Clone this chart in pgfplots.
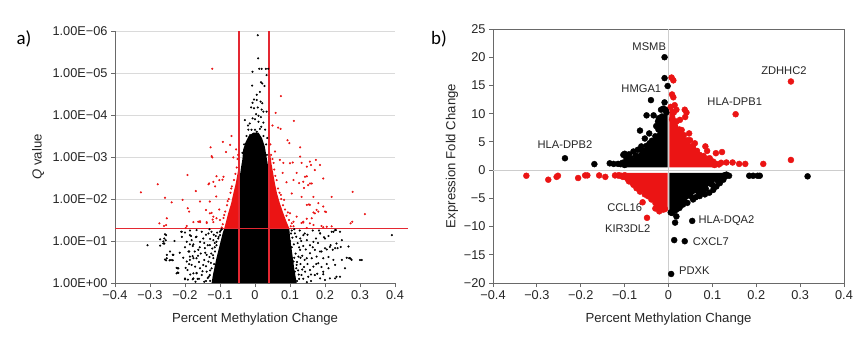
\documentclass[border=0pt]{standalone}
\usepackage{fontspec}
\setmainfont{Liberation Sans}
\newfontfamily\carlito{Carlito}
\usepackage{pgfplots}
\pgfplotsset{compat=1.18}
\definecolor{myred}{RGB}{235,20,20}
\definecolor{linered}{RGB}{228,40,50}
\definecolor{axgray}{RGB}{105,105,105}
\definecolor{gridgray}{RGB}{218,218,218}
\definecolor{zerogray}{RGB}{205,205,205}

\begin{document}
\begin{tikzpicture}[x=1bp,y=1bp]
\useasboundingbox (0,0) rectangle (859,337);
\fill[white] (0,0) rectangle (859,337);
\node[font=\carlito\fontsize{19}{22}\selectfont] at (24,298) {a)};
\node[font=\carlito\fontsize{19}{22}\selectfont] at (439,298) {b)};

% ---------------- panel a ----------------
\begin{axis}[
  at={(115bp,54bp)}, anchor=south west, scale only axis,
  width=280bp, height=252bp,
  xmin=-0.4, xmax=0.4, ymin=0, ymax=6,
  axis x line*=bottom, axis y line*=left,
  axis line style={axgray,-,line width=0.8pt},
  clip=false,
  xtick={-0.4,-0.3,-0.2,-0.1,0,0.1,0.2,0.3,0.4},
  xticklabels={−0.4,−0.3,−0.2,−0.1,0,0.1,0.2,0.3,0.4},
  ytick={0,1,2,3,4,5,6},
  yticklabels={1.00E+00,1.00E−01,1.00E−02,1.00E−03,1.00E−04,1.00E−05,1.00E−06},
  tick align=outside, major tick length=4bp,
  tick style={axgray,line width=0.8pt},
  ymajorgrids, grid style={gridgray,line width=0.8pt},
  ticklabel style={font=\fontsize{12.8}{14}\selectfont, text=black!85},
  xlabel={Percent Methylation Change},
  ylabel={\textit{Q} value},
  label style={font=\fontsize{13.2}{15}\selectfont, text=black!85},
  xlabel style={at={(axis description cs:0.5,-0.143)}, anchor=center},
  ylabel style={at={(axis description cs:-0.275,0.5)}, anchor=center},
]
% dense red regions
\addplot[fill=myred, draw=none] coordinates {(-0.088,1.3) (-0.044,1.3) (-0.044,2.9) (-0.047,2.75) (-0.05,2.6) (-0.055,2.37) (-0.062,2.13) (-0.068,1.9) (-0.077,1.65) (-0.083,1.45)} -- cycle;
\addplot[fill=myred, draw=none] coordinates {(0.04,1.3) (0.098,1.3) (0.09,1.46) (0.081,1.66) (0.071,1.9) (0.063,2.13) (0.057,2.37) (0.052,2.61) (0.047,2.85) (0.043,3.1) (0.04,3.2)} -- cycle;
% dense black core
\addplot[fill=black, draw=none] coordinates {(-0.124,0) (-0.12,0.2) (-0.115,0.4) (-0.11,0.6) (-0.104,0.8) (-0.098,1.0) (-0.092,1.2) (-0.088,1.3) (-0.044,1.3) (-0.044,2.5) (-0.04,2.75) (-0.036,2.95) (-0.034,3.17) (-0.027,3.35) (-0.018,3.5) (-0.005,3.58) (0.01,3.58) (0.02,3.45) (0.028,3.25) (0.033,3.0) (0.038,2.75) (0.04,2.5) (0.04,1.3) (0.098,1.3) (0.1,1.1) (0.104,0.85) (0.108,0.6) (0.112,0.35) (0.116,0.15) (0.119,0)} -- cycle;
% scattered red
\addplot[only marks, mark=*, mark size=0.85pt, color=myred] coordinates {
(-0.122,5.10) (0.074,4.45) (0.059,4.05) (0.111,3.86) (0.073,3.67) (0.066,3.70) (0.050,3.75) (0.093,3.40) (0.098,3.33) (0.129,3.23)
(-0.067,3.50) (-0.092,3.36) (-0.127,3.23) (-0.122,2.99) (-0.071,3.29) (-0.054,3.18) (-0.083,3.12) (-0.062,2.99) (0.057,3.13) (0.053,2.86)
(0.071,2.93) (0.081,2.86) (0.100,2.85) (0.108,2.87) (0.129,3.01) (0.133,2.86) (0.148,2.77) (0.157,2.89) (0.160,2.81) (0.171,2.69)
(0.174,2.93) (0.186,2.81) (0.143,2.53) (0.148,2.54) (0.110,2.45) (0.138,2.41) (0.152,2.33) (0.162,2.37) (0.195,2.49) (0.079,2.62)
(0.119,2.62) (0.090,2.40) (0.126,2.38) (0.157,2.37) (0.140,2.26) (0.105,2.13) (0.133,2.05) (0.167,2.05) (0.219,2.05) (0.279,2.17)
(0.148,1.86) (0.157,1.86) (0.181,1.90) (0.154,1.87) (0.195,1.82) (0.176,1.74) (0.181,1.70) (0.200,1.70) (0.171,1.66) (0.203,1.69)
(0.167,1.68) (0.100,1.66) (0.119,1.58) (0.110,1.46) (0.138,1.46) (0.162,1.54) (0.148,1.53) (0.133,1.43) (0.138,1.44) (0.157,1.42)
(0.167,1.38) (0.190,1.36) (0.205,1.34) (0.195,1.33) (0.219,1.35) (0.314,1.64) (0.273,1.42) (0.278,1.46) (0.110,1.35) (0.148,1.31)
(-0.124,3.02) (-0.193,2.57) (-0.278,2.35) (-0.326,2.16) (-0.257,2.03) (-0.238,1.92) (-0.207,1.98) (-0.169,2.19) (-0.133,2.35) (-0.119,2.41)
(-0.102,2.45) (-0.090,2.53) (-0.110,2.54) (-0.093,2.46) (-0.114,2.30) (-0.131,2.37) (-0.157,1.94) (-0.129,1.94) (-0.111,2.06) (-0.192,1.78)
(-0.188,1.70) (-0.124,1.67) (-0.102,1.75) (-0.140,1.74) (-0.129,1.66) (-0.119,1.58) (-0.110,1.54) (-0.100,1.50) (-0.252,1.54) (-0.273,1.42)
(-0.260,1.36) (-0.254,1.38) (-0.195,1.36) (-0.162,1.46) (-0.176,1.45) (-0.157,1.45) (-0.138,1.45) (-0.119,1.45) (-0.157,1.47) (-0.138,1.43)
(-0.121,1.51) (-0.198,1.31)
(-0.092,1.40) (-0.090,1.55) (-0.085,1.70) (-0.080,1.85) (-0.075,2.00) (-0.070,2.15) (-0.066,2.30) (-0.060,2.45) (-0.056,2.60) (-0.052,2.75)
(-0.050,2.95) (-0.048,3.05) (-0.095,1.32) (-0.088,1.62) (-0.078,1.95) (-0.068,2.25)
(0.102,1.35) (0.097,1.50) (0.090,1.60) (0.086,1.75) (0.080,1.85) (0.075,2.00) (0.070,2.15) (0.066,2.25) (0.062,2.45) (0.058,2.55)
(0.055,2.70) (0.050,2.95) (0.046,3.05) (0.044,3.30) (0.105,1.42) (0.094,1.68) (0.083,1.98) (0.074,2.10)
};
% scattered black
\addplot[only marks, mark=*, mark size=0.85pt, color=black] coordinates {
(0.008,5.9) (0.009,5.35) (0.012,5.1) (0.019,5.1) (0.031,5.1) (0.038,5.1) (-0.007,5.03) (0.033,4.95) (0.017,4.78) (0.021,4.75)
(0.027,4.69) (-0.008,4.7) (0.014,4.55) (0.005,4.48) (-0.003,4.37) (0.005,4.36) (-0.007,4.29) (0.016,4.32) (0.021,4.28) (-0.011,4.18)
(-0.003,4.16) (0.008,4.18) (0.019,4.13) (0.024,4.08) (0.033,4.08) (0.003,4.02) (0.01,3.98) (0.017,3.95) (-0.007,3.92) (-0.029,3.88)
(0.01,3.84) (0.024,3.82) (-0.019,3.65) (-0.01,3.65) (0,3.65) (0.014,3.67) (0.029,3.65) (-0.024,3.5) (-0.014,3.52) (0.005,3.6)
(0.024,3.5) (0.035,3.45) (-0.031,3.3) (0.032,3.3) (-0.036,3.1) (0.034,3.05) (-0.02,3.75) (0.018,3.72) (-0.015,3.8) (0.0,3.9)
(-0.307,0.90) (-0.271,1.04) (-0.259,1.06) (-0.254,1.14) (-0.259,0.94) (-0.243,0.75) (-0.233,0.67) (-0.252,0.67) (-0.254,0.54) (-0.244,0.54)
(-0.235,0.54) (-0.221,0.35) (-0.221,0.25) (-0.2,0.09) (-0.209,1.10) (-0.211,1.22) (-0.183,1.12) (-0.169,1.09) (-0.186,0.92) (-0.178,0.88)
(-0.188,0.75) (-0.178,0.64) (-0.186,0.55) (-0.181,0.43) (-0.171,0.39) (-0.193,0.31) (-0.176,0.23) (-0.178,0.09) (-0.164,0.10) (-0.262,0.99)
(-0.257,0.56) (-0.224,0.36) (-0.219,0.24) (-0.198,0.36) (-0.192,0.08) (-0.167,0.24) (-0.186,1.25) (-0.257,1.16) (-0.255,1.02) (-0.262,0.94)
(-0.271,0.89) (-0.235,0.67) (-0.252,0.59) (-0.24,0.55) (-0.186,1.14) (-0.167,1.10) (-0.195,0.98) (-0.181,1.02) (-0.176,0.92) (-0.19,0.75)
(-0.186,0.63) (-0.176,0.59) (-0.167,0.59) (-0.195,0.51) (-0.219,0.35) (-0.224,0.23) (-0.2,0.11) (-0.167,0.23) (-0.157,0.35) (-0.148,0.43)
(-0.152,0.19) (-0.176,0.11) (-0.138,0.67) (-0.143,0.83) (-0.162,0.79) (-0.157,0.98) (-0.148,1.06) (-0.133,1.18) (-0.124,1.22) (-0.119,1.02)
(-0.129,0.9) (-0.209,1.22) (-0.167,1.26) (-0.152,1.22) (-0.133,0.51) (-0.124,0.35) (-0.129,0.19) (-0.138,0.27) (-0.119,0.59) (-0.114,0.75)
(-0.11,0.9) (-0.105,1.06) (-0.1,1.14) (-0.128,0.05) (-0.135,0.12) (-0.14,0.4) (-0.13,0.62) (-0.122,0.82) (-0.115,0.95) (-0.108,1.2)
(-0.098,1.25) (-0.145,0.55) (-0.155,0.7) (-0.16,0.1) (-0.145,0.03) (-0.117,0.45) (-0.125,0.7) (-0.112,1.12)
(-0.128,0.3) (-0.132,0.15) (-0.126,0.48) (-0.12,0.66) (-0.115,0.85) (-0.11,0.98) (-0.104,1.1) (-0.1,1.22) (-0.095,1.28) (-0.14,0.05)
(-0.15,0.28) (-0.142,0.72) (-0.135,0.9) (-0.128,1.05) (-0.118,1.15) (-0.16,0.5) (-0.163,0.65) (-0.158,0.85) (-0.145,0.95) (-0.14,1.15)
(-0.13,1.28) (-0.172,0.75) (-0.17,0.03) (-0.185,0.2) (-0.205,0.6) (-0.2,0.85) (-0.215,0.72) (-0.23,1.0) (-0.2,1.2) (-0.188,0.45)
(0.114,1.18) (0.129,1.06) (0.138,1.14) (0.148,1.02) (0.157,0.9) (0.167,0.98) (0.186,1.18) (0.2,1.06) (0.219,1.22) (0.229,1.26)
(0.243,1.22) (0.248,1.02) (0.233,0.94) (0.214,0.86) (0.2,0.83) (0.186,0.75) (0.171,0.79) (0.157,0.71) (0.148,0.59) (0.162,0.59)
(0.176,0.63) (0.195,0.59) (0.181,0.47) (0.167,0.39) (0.157,0.31) (0.143,0.27) (0.133,0.19) (0.152,0.15) (0.171,0.19) (0.186,0.11)
(0.195,0.27) (0.21,0.35) (0.224,0.55) (0.229,0.43) (0.248,0.55) (0.271,0.59) (0.3,0.55) (0.257,0.35) (0.229,0.11) (0.243,0.15)
(0.214,0.11) (0.2,0.07) (0.119,0.43) (0.124,0.63) (0.129,0.79) (0.11,0.51) (0.114,0.27) (0.1,0.11) (0.11,0.07)
(0.391,1.14) (0.224,1.22) (0.231,1.26) (0.21,1.12) (0.197,1.09) (0.186,1.18) (0.174,1.06) (0.229,0.83) (0.236,0.83) (0.245,0.86)
(0.222,0.79) (0.216,0.9) (0.205,0.8) (0.19,0.75) (0.269,0.59) (0.276,0.55) (0.305,0.55) (0.233,0.15) (0.195,0.21) (0.267,0.87)
(0.262,0.6) (0.273,0.58) (0.12,0.05) (0.125,0.2) (0.118,0.35) (0.112,0.6) (0.105,0.85) (0.1,1.0) (0.095,1.2) (0.13,0.45)
(0.138,0.1) (0.135,0.65) (0.122,0.95) (0.105,1.25) (0.14,0.38) (0.145,0.8) (0.128,1.25)
(0.123,0.3) (0.126,0.1) (0.12,0.5) (0.116,0.7) (0.111,0.92) (0.107,1.08) (0.103,1.18) (0.135,0.32) (0.13,0.6) (0.126,0.85)
(0.118,1.1) (0.112,1.28) (0.142,0.55) (0.15,0.45) (0.148,0.02) (0.16,0.2) (0.138,0.88) (0.15,1.15) (0.165,0.85) (0.175,0.45)
(0.18,0.95) (0.19,0.38) (0.205,0.45) (0.165,1.25) (0.142,1.18) (0.132,1.0) (0.16,0.05) (0.178,0.22) (0.21,0.62) (0.183,1.25)
};
% threshold lines
\addplot[fill=linered, draw=none] coordinates {(-0.0472,0) (-0.0434,0) (-0.0434,6) (-0.0472,6)} -- cycle;
\addplot[color=linered, line width=1.3pt] coordinates {(0.04,0) (0.04,6)};
\addplot[color=linered, line width=1.3pt] coordinates {(-0.4,1.3) (0.437,1.3)};
\end{axis}

% ---------------- panel b ----------------
\begin{axis}[
  at={(493bp,54bp)}, anchor=south west, scale only axis,
  width=351bp, height=254bp,
  xmin=-0.4, xmax=0.4, ymin=-20, ymax=25,
  axis line style={axgray,line width=0.8pt},
  xtick pos=left, ytick pos=left,
  xtick={-0.4,-0.3,-0.2,-0.1,0,0.1,0.2,0.3,0.4},
  xticklabels={−0.4,−0.3,−0.2,−0.1,0,0.1,0.2,0.3,0.4},
  ytick={-20,-15,-10,-5,0,5,10,15,20,25},
  yticklabels={−20,−15,−10,−5,0,5,10,15,20,25},
  tick align=outside, major tick length=4bp,
  tick style={axgray,line width=0.8pt},
  ticklabel style={font=\fontsize{12.8}{14}\selectfont, text=black!85},
  xlabel={Percent Methylation Change},
  ylabel={Expression Fold Change},
  label style={font=\fontsize{13.2}{15}\selectfont, text=black!85},
  xlabel style={at={(axis description cs:0.5,-0.142)}, anchor=center},
  ylabel style={at={(axis description cs:-0.117,0.5)}, anchor=center},
]
\addplot[zerogray, line width=0.8pt] coordinates {(0,-20) (0,25)};
\addplot[zerogray, line width=0.8pt] coordinates {(-0.4,0) (0.4,0)};
% dense clouds
\addplot[fill=black, draw=none] coordinates {(-0.002,0.5) (-0.1,0.5) (-0.095,1.5) (-0.08,2.2) (-0.068,3.0) (-0.055,3.9) (-0.045,4.7) (-0.033,5.6) (-0.025,6.6) (-0.021,8.0) (-0.018,9.3) (-0.01,9.8) (-0.002,9.8)} -- cycle;
\addplot[fill=myred, draw=none] coordinates {(0.002,0.5) (0.105,0.5) (0.1,1.2) (0.088,1.8) (0.072,3.0) (0.06,3.8) (0.05,4.7) (0.038,5.7) (0.03,6.5) (0.022,7.8) (0.015,9.5) (0.01,10.8) (0.002,11)} -- cycle;
\addplot[fill=myred, draw=none] coordinates {(-0.002,-0.5) (-0.1,-0.5) (-0.097,-1.5) (-0.085,-2.2) (-0.073,-2.9) (-0.055,-4.0) (-0.036,-5.2) (-0.022,-6.4) (-0.012,-6.8) (-0.002,-6.8)} -- cycle;
\addplot[fill=black, draw=none] coordinates {(0.002,-0.5) (0.128,-0.5) (0.12,-1.2) (0.108,-1.9) (0.09,-2.9) (0.075,-3.6) (0.06,-4.1) (0.042,-5.2) (0.03,-6.4) (0.02,-7.0) (0.01,-7.3) (0.002,-7.3)} -- cycle;
% black points
\addplot[only marks, mark=*, mark size=3pt, color=black] coordinates {
(-0.009,20.0) (-0.009,16.3) (-0.002,14.9) (-0.040,12.4) (-0.009,12.0) (-0.017,10.7) (-0.05,9.7) (-0.034,9.7) (-0.006,10.7) (-0.012,10.9)
(-0.236,2.1) (-0.169,1.06) (-0.134,1.2) (-0.125,1.1) (-0.109,1.05) (-0.103,2.7) (-0.1,2.9) (-0.087,2.1) (-0.065,7.0) (-0.044,6.5)
(-0.054,5.6) (-0.043,4.75) (-0.062,4.2) (-0.08,3.3) (-0.097,2.4) (-0.096,1.8) (-0.024,8.6) (-0.028,7.8) (-0.022,9.2) (-0.07,3.6)
(-0.105,1.3) (-0.115,1.1) (-0.09,2.8)
(-0.1,0.9) (-0.093,1.6) (-0.086,2.0) (-0.075,2.6) (-0.06,3.5) (-0.05,4.3) (-0.038,5.2) (-0.03,6.0) (-0.023,7.2) (-0.02,8.3)
(-0.015,9.5) (-0.005,10.2)
(0.13,-1.1) (0.125,-1.7) (0.109,-2.9) (0.093,-4.0) (0.071,-4.6) (0.043,-5.8) (0.026,-6.4) (0.018,-7.0) (0.011,-7.0) (0.018,-8.2)
(0.015,-9.3) (0.054,-9.0) (0.013,-12.4) (0.037,-12.6) (0.006,-18.4) (0.184,-1.0) (0.193,-1.0) (0.203,-1.0) (0.208,-1.0) (0.317,-1.1)
(0.117,-2.3) (0.102,-3.5) (0.083,-4.3) (0.056,-5.2) (0.033,-6.1) (0.132,-0.8) (0.121,-1.3) (0.062,-4.8) (0.078,-3.8) (0.098,-2.5)
(0.008,-7.6)
(0.128,-0.9) (0.124,-1.4) (0.113,-2.0) (0.1,-2.6) (0.085,-3.3) (0.068,-3.9) (0.05,-4.6) (0.036,-5.6) (0.025,-6.7) (0.014,-7.2)
(0.005,-7.5) (0.138,-1.0)
};
% red points
\addplot[only marks, mark=*, mark size=3pt, color=myred] coordinates {
(0.007,16.4) (0.011,15.9) (0.008,13.4) (0.011,12.9) (0.018,10.7) (0.037,10.7) (0.041,10.2) (0.038,9.4) (0.153,9.9) (0.279,15.7)
(0.279,1.8) (0.026,8.9) (0.047,6.5) (0.06,4.75) (0.084,4.2) (0.088,3.4) (0.108,3.0) (0.122,3.2) (0.132,1.35) (0.146,1.35)
(0.161,1.1) (0.175,1.1) (0.216,1.1) (0.094,2.1) (0.102,1.5) (0.109,1.1) (0.071,2.7) (0.056,3.9) (0.049,5.3) (0.03,7.1)
(0.014,11.5) (0.008,9.0) (0.035,6.2)
(0.105,0.9) (0.098,1.5) (0.09,2.0) (0.08,2.5) (0.065,3.4) (0.055,4.3) (0.043,5.3) (0.033,6.1) (0.025,7.2) (0.018,8.6)
(0.012,10.2) (0.005,11.2) (0.115,1.0) (0.12,1.3)
(-0.324,-1.0) (-0.274,-1.7) (-0.255,-1.2) (-0.252,-1.0) (-0.206,-1.4) (-0.19,-0.94) (-0.185,-0.94) (-0.158,-0.94) (-0.144,-1.2) (-0.122,-0.94)
(-0.112,-0.94) (-0.059,-5.7) (-0.021,-7.3) (-0.049,-8.45) (-0.039,-5.2) (-0.027,-6.1) (-0.016,-6.4) (-0.012,-7.0) (-0.073,-3.2) (-0.081,-2.3)
(-0.092,-1.7) (-0.054,-4.3) (-0.104,-1.2) (-0.065,-3.8) (-0.03,-6.8)
(-0.1,-0.9) (-0.097,-1.3) (-0.09,-2.0) (-0.08,-2.6) (-0.068,-3.3) (-0.047,-4.6) (-0.03,-5.8) (-0.018,-6.6) (-0.008,-6.9) (-0.108,-1.0)
(-0.115,-0.95)
};
% gene labels
\begin{scope}[every node/.style={font=\fontsize{11.2}{13}\selectfont, text=black!85}]
\node[anchor=center] at (axis cs:-0.044,21.9) {MSMB};
\node[anchor=center] at (axis cs:-0.062,14.4) {HMGA1};
\node[anchor=center] at (axis cs:0.263,17.7) {ZDHHC2};
\node[anchor=center] at (axis cs:0.151,12.1) {HLA-DPB1};
\node[anchor=center] at (axis cs:-0.236,4.5) {HLA-DPB2};
\node[anchor=center] at (axis cs:-0.100,-6.7) {CCL16};
\node[anchor=center] at (axis cs:-0.093,-10.4) {KIR3DL2};
\node[anchor=west, inner sep=0pt] at (axis cs:0.068,-9.0) {HLA-DQA2};
\node[anchor=west, inner sep=0pt] at (axis cs:0.055,-12.6) {CXCL7};
\node[anchor=west, inner sep=0pt] at (axis cs:0.024,-17.9) {PDXK};
\end{scope}
\end{axis}
\end{tikzpicture}
\end{document}
